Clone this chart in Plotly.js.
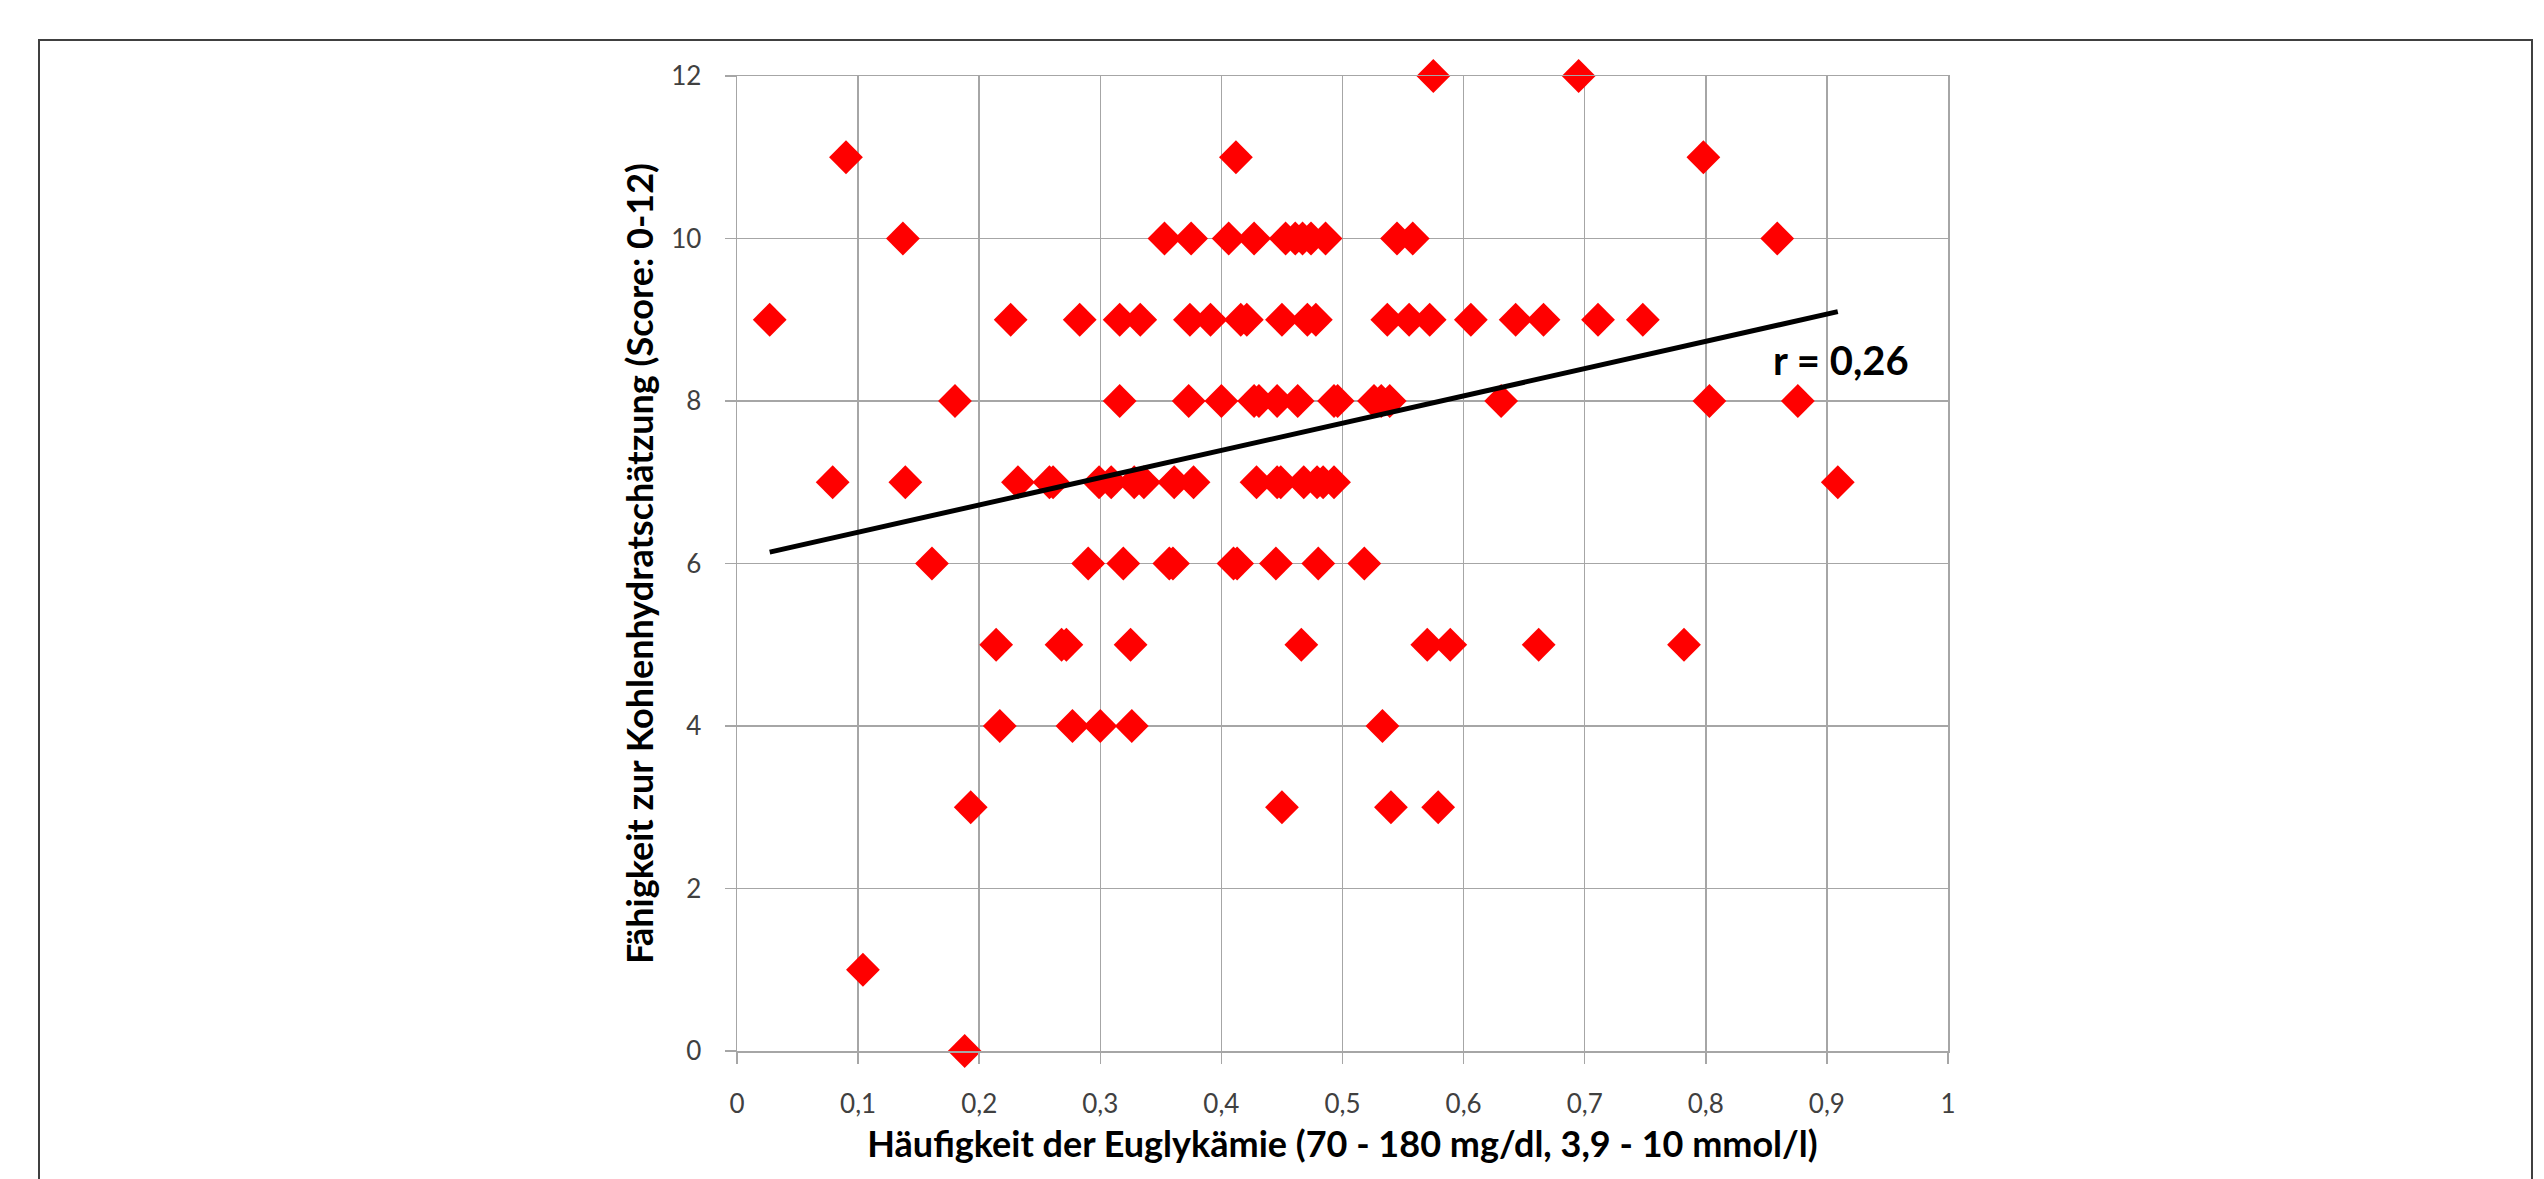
<!DOCTYPE html>
<html><head><meta charset="utf-8">
<script src="https://cdn.plot.ly/plotly-3.0.1.min.js"></script>
<style>
html,body{margin:0;padding:0;background:#fff;overflow:hidden;}
#frame{position:absolute;left:38px;top:39px;width:2495px;height:1300px;border:2px solid #404040;box-sizing:border-box;}
#chart{position:absolute;left:0;top:0;width:2544px;height:1179px;}
</style></head><body>
<div id="frame"></div>
<div id="chart"></div>
<script>
// Häufigkeit der Euglykämie (x) grouped by score level (y)
const euglyk_12 = [0.575, 0.695];
const euglyk_11 = [0.090, 0.412, 0.798];
const euglyk_10 = [0.137, 0.353, 0.375, 0.406, 0.427, 0.453, 0.461, 0.467, 0.474, 0.486, 0.545, 0.558, 0.859];
const euglyk_9  = [0.027, 0.226, 0.283, 0.316, 0.333, 0.374, 0.391, 0.416, 0.421, 0.450, 0.471, 0.478, 0.537, 0.555, 0.572, 0.606, 0.643, 0.666, 0.711, 0.748];
const euglyk_8  = [0.180, 0.316, 0.373, 0.400, 0.427, 0.431, 0.446, 0.463, 0.493, 0.496, 0.526, 0.532, 0.539, 0.631, 0.803, 0.876];
const euglyk_7  = [0.079, 0.139, 0.232, 0.258, 0.261, 0.299, 0.309, 0.328, 0.336, 0.361, 0.377, 0.429, 0.446, 0.449, 0.468, 0.479, 0.484, 0.493, 0.909];
const euglyk_6  = [0.161, 0.290, 0.319, 0.357, 0.360, 0.410, 0.413, 0.445, 0.480, 0.518];
const euglyk_5  = [0.214, 0.268, 0.272, 0.325, 0.466, 0.570, 0.589, 0.662, 0.782];
const euglyk_4  = [0.217, 0.277, 0.300, 0.326, 0.533];
const euglyk_3  = [0.193, 0.450, 0.540, 0.579];
const euglyk_1  = [0.104];
const euglyk_0  = [0.188];

const scoreLevels = [12, 11, 10, 9, 8, 7, 6, 5, 4, 3, 1, 0];
const groups = [euglyk_12, euglyk_11, euglyk_10, euglyk_9, euglyk_8, euglyk_7, euglyk_6, euglyk_5, euglyk_4, euglyk_3, euglyk_1, euglyk_0];

// Trend line end points
const trendX = [0.027, 0.909];
const trendY = [6.14, 9.10];

const xTickVals = [0, 0.1, 0.2, 0.3, 0.4, 0.5, 0.6, 0.7, 0.8, 0.9, 1];
const xTickText = ['0', '0,1', '0,2', '0,3', '0,4', '0,5', '0,6', '0,7', '0,8', '0,9', '1'];
const yTickVals = [0, 2, 4, 6, 8, 10, 12];

const xTitle = 'Häufigkeit der Euglykämie (70 - 180 mg/dl, 3,9 - 10 mmol/l)';
const yTitle = 'Fähigkeit zur Kohlenhydratschätzung (Score: 0-12)';
const rLabel = 'r = 0,26';

const xs = [], ys = [];
groups.forEach((g, i) => g.forEach(v => { xs.push(v); ys.push(scoreLevels[i]); }));

const FONT = 'Lato, "Open Sans", sans-serif';
const GRID = '#a6a6a6';

const traces = [
  {
    x: xs, y: ys, type: 'scatter', mode: 'markers',
    marker: {symbol: 'diamond', size: 26, color: '#ff0000', line: {width: 0}},
    cliponaxis: false, showlegend: false, hoverinfo: 'x+y'
  },
  {
    x: trendX, y: trendY, type: 'scatter', mode: 'lines',
    line: {color: '#000000', width: 5}, showlegend: false, hoverinfo: 'skip'
  }
];

const layout = {
  width: 2544, height: 1179,
  margin: {l: 737, r: 596, t: 76, b: 128, pad: 0},
  paper_bgcolor: 'rgba(0,0,0,0)', plot_bgcolor: 'rgba(0,0,0,0)',
  font: {family: FONT, color: '#404040'},
  xaxis: {
    range: [0, 1], tickvals: xTickVals, ticktext: xTickText,
    showgrid: true, gridcolor: GRID, gridwidth: 1.5,
    showline: true, linecolor: GRID, linewidth: 1.5, mirror: true,
    zeroline: false, ticks: 'outside', ticklen: 11, tickcolor: GRID, tickwidth: 1.5,
    ticklabelstandoff: 18,
    tickfont: {family: FONT, size: 26, color: '#404040'},
    title: {text: '<b>' + xTitle + '</b>', font: {family: FONT, size: 36, color: '#000'}, standoff: 14},
    automargin: false, fixedrange: true
  },
  yaxis: {
    range: [0, 12], tickvals: yTickVals,
    showgrid: true, gridcolor: GRID, gridwidth: 1.5,
    showline: true, linecolor: GRID, linewidth: 1.5, mirror: true,
    zeroline: false, ticks: 'outside', ticklen: 11, tickcolor: GRID, tickwidth: 1.5,
    ticklabelstandoff: 18,
    tickfont: {family: FONT, size: 26, color: '#404040'},
    title: {text: '<b>' + yTitle + '</b>', font: {family: FONT, size: 36, color: '#000'}, standoff: 6},
    automargin: false, fixedrange: true
  },
  annotations: [{
    x: 0.912, y: 8.5, xref: 'x', yref: 'y', text: '<b>' + rLabel + '</b>',
    showarrow: false, font: {family: FONT, size: 40, color: '#000'}
  }],
  showlegend: false
};

Plotly.newPlot('chart', traces, layout, {displayModeBar: false, staticPlot: true});
</script>
</body></html>
